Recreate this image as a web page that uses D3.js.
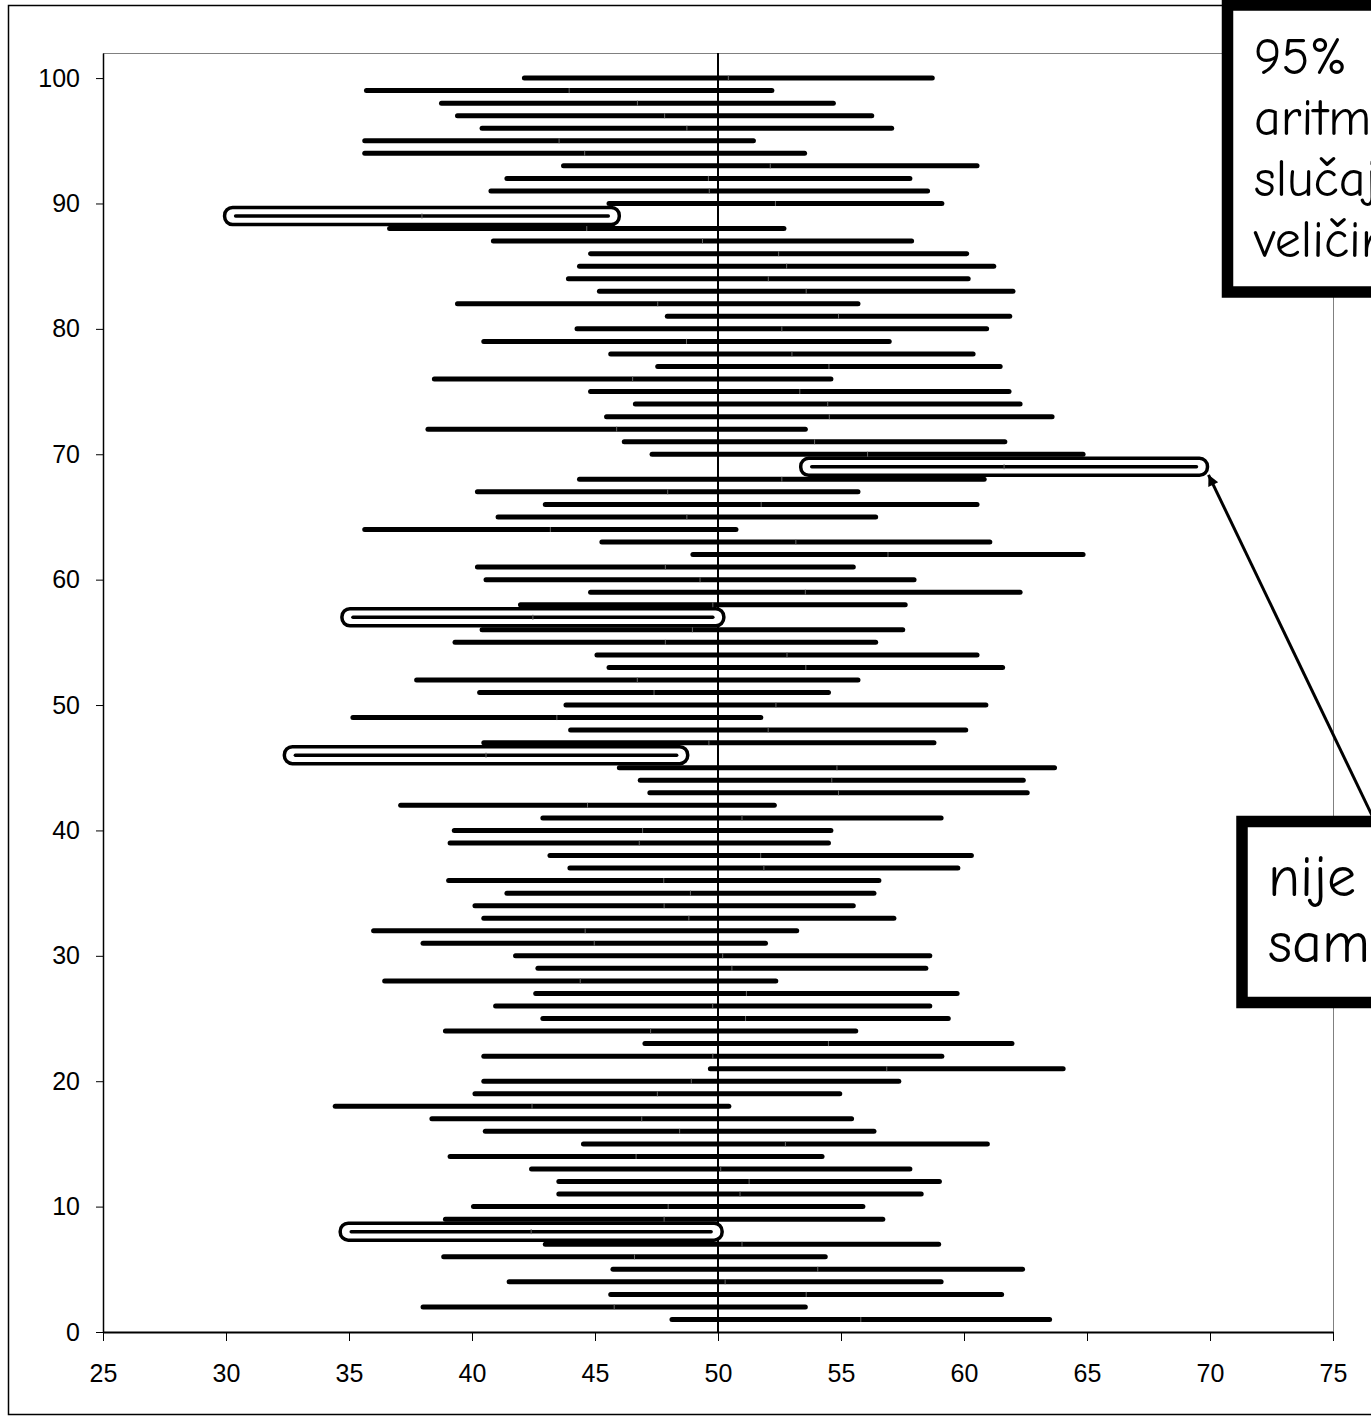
<!DOCTYPE html>
<html>
<head>
<meta charset="utf-8">
<script src="https://cdn.jsdelivr.net/npm/d3@7"></script>
<style>
    body { margin: 0; background: #fff; }
    #chart { width: 1371px; height: 1423px; overflow: hidden; }
    .axis text { font-family: "Liberation Sans", Arial, sans-serif; font-size: 25px; fill: #000; }
    .axis line, .axis path { stroke: #000; }
    .note text { font-family: "Comic Sans MS", "Comic Neue", "Open Sans", sans-serif; fill: #000; }
</style>
</head>
<body>
<div id="chart"></div>
<script>
// 95% confidence intervals for 100 samples, sample 1 at the bottom
const lowerBounds = [
    48.13, 38.01, 45.64, 41.51, 45.73, 38.85, 42.98, 35.09, 38.92, 40.06,
    43.53, 43.53, 42.42, 39.11, 44.53, 40.54, 38.37, 34.44, 40.12, 40.48,
    49.69, 40.48, 47.03, 38.92, 42.88, 40.96, 42.59, 36.45, 42.68, 41.77,
    38.01, 36.00, 40.48, 40.12, 41.42, 39.05, 43.98, 43.17, 39.11, 39.28,
    42.88, 37.10, 47.23, 46.84, 45.99, 32.82, 40.48, 44.01, 35.16, 43.82,
    40.31, 37.75, 45.57, 45.08, 39.31, 40.41, 35.16, 41.97, 44.82, 40.57,
    40.22, 48.98, 45.28, 35.64, 41.06, 42.98, 40.22, 44.37, 53.81, 47.32,
    46.19, 38.21, 45.47, 46.64, 44.82, 38.47, 47.55, 45.64, 40.48, 44.27,
    47.94, 39.41, 45.18, 43.92, 44.37, 44.82, 40.87, 36.65, 30.39, 45.57,
    40.77, 41.42, 43.72, 35.64, 35.64, 40.41, 39.41, 38.76, 35.71, 42.13
];
const upperBounds = [
    63.48, 53.55, 61.53, 59.07, 62.38, 54.36, 58.97, 49.72, 56.70, 55.89,
    58.26, 59.00, 57.80, 54.23, 60.95, 56.34, 55.43, 50.44, 54.95, 57.35,
    64.03, 59.10, 61.95, 55.60, 59.36, 58.61, 59.72, 52.35, 58.45, 58.61,
    51.93, 53.20, 57.15, 55.50, 56.34, 56.54, 59.75, 60.30, 54.49, 54.59,
    59.07, 52.29, 62.57, 62.41, 63.68, 48.32, 58.78, 60.07, 51.74, 60.89,
    54.49, 55.69, 61.57, 60.53, 56.41, 57.51, 49.79, 57.61, 62.28, 57.97,
    55.50, 64.84, 61.05, 50.73, 56.41, 60.53, 55.69, 60.82, 69.45, 64.84,
    61.66, 53.55, 63.58, 62.28, 61.83, 54.59, 61.47, 60.37, 56.96, 60.92,
    61.86, 55.69, 61.99, 60.17, 61.21, 60.11, 57.87, 52.68, 45.54, 59.10,
    58.52, 57.80, 60.53, 53.52, 51.44, 57.06, 56.25, 54.69, 52.19, 58.71
];
// intervals that miss the population mean
const missedSamples = [8, 46, 57, 69, 89];
const populationMean = 50;
const arrowSample = 69;

const xTicks = [25, 30, 35, 40, 45, 50, 55, 60, 65, 70, 75];
const yTicks = [0, 10, 20, 30, 40, 50, 60, 70, 80, 90, 100];

const noteTopLines = ["95%", "aritmetičke sredine", "slučajnih uzoraka", "veličine n"];
const noteBottomLines = ["nije obuhvatio", "samu sredinu"];

class IntervalVis {
    constructor(parentElement) {
        this.parentElement = parentElement;
        this.initVis();
    }

    initVis() {
        let vis = this;

        vis.margin = { top: 53, left: 103 };
        vis.width = 1230;
        vis.height = 1279;

        vis.root = d3.select("#" + vis.parentElement).append("svg")
            .attr("width", 1371)
            .attr("height", 1423);

        // outer chart border
        vis.root.append("rect")
            .attr("x", 8.5).attr("y", 5.5)
            .attr("width", 1420).attr("height", 1409)
            .attr("fill", "#fff")
            .attr("stroke", "#000")
            .attr("stroke-width", 1.5);

        vis.svg = vis.root.append("g")
            .attr("transform", "translate(" + vis.margin.left + "," + vis.margin.top + ")");

        vis.x = d3.scaleLinear().domain([25, 75]).range([0, vis.width]);
        vis.y = d3.scaleLinear().domain([0, 102]).range([vis.height, 0]);

        // plot area frame
        vis.svg.append("rect")
            .attr("x", 0.5).attr("y", 0.5)
            .attr("width", vis.width).attr("height", vis.height)
            .attr("fill", "none")
            .attr("stroke", "#808080")
            .attr("stroke-width", 1);

        vis.wrangleData();
    }

    wrangleData() {
        let vis = this;
        vis.data = lowerBounds.map((lo, i) => ({
            id: i + 1,
            lo: lo,
            hi: upperBounds[i],
            missed: missedSamples.includes(i + 1)
        }));
        vis.updateVis();
    }

    updateVis() {
        let vis = this;

        // axes
        vis.svg.append("g")
            .attr("class", "axis y-axis")
            .call(d3.axisLeft(vis.y).tickValues(yTicks).tickSize(7).tickSizeOuter(0).tickPadding(16))
            .call(g => g.select(".domain").attr("stroke-width", 1.5));

        vis.svg.append("g")
            .attr("class", "axis x-axis")
            .attr("transform", "translate(0," + vis.height + ")")
            .call(d3.axisBottom(vis.x).tickValues(xTicks).tickSize(9).tickSizeOuter(0).tickPadding(23))
            .call(g => g.select(".domain").attr("stroke-width", 2));

        // population mean
        vis.svg.append("line")
            .attr("x1", vis.x(populationMean)).attr("x2", vis.x(populationMean))
            .attr("y1", 0).attr("y2", vis.height)
            .attr("stroke", "#000")
            .attr("stroke-width", 2);

        // normal intervals
        vis.svg.selectAll(".ci")
            .data(vis.data.filter(d => !d.missed))
            .enter().append("line")
            .attr("class", "ci")
            .attr("x1", d => vis.x(d.lo))
            .attr("x2", d => vis.x(d.hi))
            .attr("y1", d => vis.y(d.id))
            .attr("y2", d => vis.y(d.id))
            .attr("stroke", "#000")
            .attr("stroke-width", 5)
            .attr("stroke-linecap", "round");

        // outlined intervals that miss the mean
        let missed = vis.svg.selectAll(".ci-miss")
            .data(vis.data.filter(d => d.missed))
            .enter().append("g")
            .attr("class", "ci-miss");

        missed.append("rect")
            .attr("x", d => vis.x(d.lo) - 11)
            .attr("y", d => vis.y(d.id) - 8.5)
            .attr("width", d => vis.x(d.hi) - vis.x(d.lo) + 22)
            .attr("height", 17)
            .attr("rx", 8)
            .attr("fill", "#fff")
            .attr("stroke", "#000")
            .attr("stroke-width", 3.5);

        missed.append("line")
            .attr("x1", d => vis.x(d.lo))
            .attr("x2", d => vis.x(d.hi))
            .attr("y1", d => vis.y(d.id))
            .attr("y2", d => vis.y(d.id))
            .attr("stroke", "#000")
            .attr("stroke-width", 3.5)
            .attr("stroke-linecap", "round");

        // small mark at each sample mean
        vis.svg.selectAll(".mean-mark")
            .data(vis.data)
            .enter().append("line")
            .attr("class", "mean-mark")
            .attr("x1", d => vis.x((d.lo + d.hi) / 2))
            .attr("x2", d => vis.x((d.lo + d.hi) / 2))
            .attr("y1", d => vis.y(d.id) - 2.5)
            .attr("y2", d => vis.y(d.id) + 2.5)
            .attr("stroke", "#666")
            .attr("stroke-width", 1);

        vis.drawNotes();
    }

    drawNotes() {
        let vis = this;
        let target = vis.data.find(d => d.id === arrowSample);
        let tipX = vis.margin.left + vis.x(target.hi) + 12;
        let tipY = vis.margin.top + vis.y(target.id) + 8;

        // arrow pointing at the interval
        vis.root.append("defs").append("marker")
            .attr("id", "arrowhead")
            .attr("viewBox", "0 0 10 10")
            .attr("refX", 0).attr("refY", 5)
            .attr("markerWidth", 16).attr("markerHeight", 11)
            .attr("markerUnits", "userSpaceOnUse")
            .attr("orient", "auto")
            .append("path")
            .attr("d", "M0,5 L10,0 L10,10 Z")
            .attr("fill", "#000");

        vis.root.append("line")
            .attr("x1", tipX).attr("y1", tipY)
            .attr("x2", tipX + 0.48 * (822 - tipY)).attr("y2", 822)
            .attr("stroke", "#000")
            .attr("stroke-width", 3)
            .attr("marker-start", "url(#arrowhead)");

        // top text box
        let top = vis.root.append("g").attr("class", "note");
        top.append("rect")
            .attr("x", 1227.5).attr("y", 5)
            .attr("width", 300).attr("height", 287)
            .attr("fill", "#fff")
            .attr("stroke", "#000")
            .attr("stroke-width", 11.5);
        top.selectAll("text")
            .data(noteTopLines)
            .enter().append("text")
            .attr("x", 1254)
            .attr("y", (d, i) => 74 + i * 61)
            .style("font-size", "52px")
            .text(d => d);

        // bottom text box
        let bottom = vis.root.append("g").attr("class", "note");
        bottom.append("rect")
            .attr("x", 1242).attr("y", 821.5)
            .attr("width", 300).attr("height", 181)
            .attr("fill", "#fff")
            .attr("stroke", "#000")
            .attr("stroke-width", 11.5);
        bottom.selectAll("text")
            .data(noteBottomLines)
            .enter().append("text")
            .attr("x", 1268)
            .attr("y", (d, i) => 896 + i * 66)
            .style("font-size", "58px")
            .text(d => d);
    }
}

new IntervalVis("chart");
</script>
</body>
</html>
